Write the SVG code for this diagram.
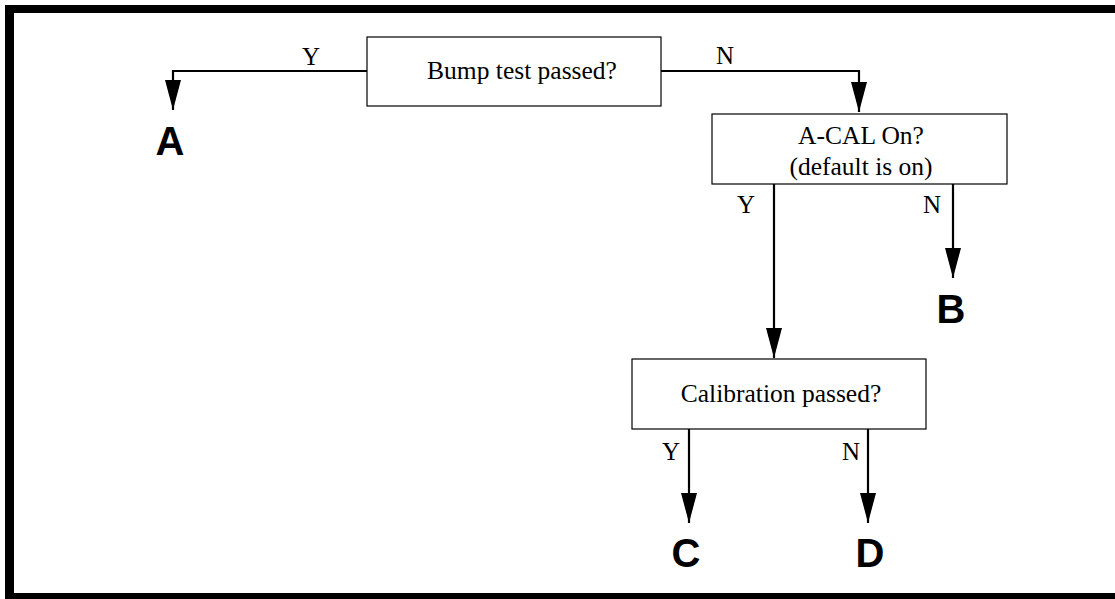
<svg xmlns="http://www.w3.org/2000/svg" width="1115" height="599" viewBox="0 0 1115 599">
<defs>
<style>
.box{fill:#fff;stroke:#000;stroke-width:1.2}
.t{font-family:"Liberation Serif",serif;font-size:25.5px;fill:#000;text-anchor:middle}
.lbl{font-family:"Liberation Serif",serif;font-size:25px;fill:#000;text-anchor:middle}
.end{font-family:"Liberation Sans",sans-serif;font-size:40px;font-weight:bold;fill:#000;text-anchor:middle}
.ln{fill:none;stroke:#000;stroke-width:2.2}
</style>
<marker id="ah" markerWidth="30" markerHeight="16" refX="30" refY="8" orient="auto" markerUnits="userSpaceOnUse" viewBox="0 0 30 16">
<path d="M0,0 L30,8 L0,16 Z" fill="#000"/>
</marker>
</defs>
<rect width="1115" height="599" fill="#fff"/>
<g id="frame" fill="#000">
<rect x="5" y="5" width="1110" height="8"/>
<rect x="5" y="5" width="9" height="594"/>
<rect x="5" y="593" width="1110" height="6"/>
</g>
<g id="connectors">
<path class="ln" d="M367,71 H173 V110" marker-end="url(#ah)"/>
<path class="ln" d="M661,71 H859 V112" marker-end="url(#ah)"/>
<path class="ln" d="M774,184 V358" marker-end="url(#ah)"/>
<path class="ln" d="M953,184 V278" marker-end="url(#ah)"/>
<path class="ln" d="M689,429 V523" marker-end="url(#ah)"/>
<path class="ln" d="M868,429 V523" marker-end="url(#ah)"/>
<text class="lbl" x="311" y="65">Y</text>
<text class="lbl" x="725" y="64">N</text>
<text class="lbl" x="746" y="213">Y</text>
<text class="lbl" x="932" y="213">N</text>
<text class="lbl" x="671" y="460">Y</text>
<text class="lbl" x="851" y="460">N</text>
</g>
<g id="bump">
<rect class="box" x="367" y="37" width="294" height="69"/>
<text class="t" x="522" y="79">Bump test passed?</text>
</g>
<g id="acal">
<rect class="box" x="712" y="114" width="295" height="70"/>
<text class="t" x="861" y="144">A-CAL On?</text>
<text class="t" x="861" y="175">(default is on)</text>
</g>
<g id="calib">
<rect class="box" x="632" y="359" width="294" height="70"/>
<text class="t" x="781" y="402">Calibration passed?</text>
</g>
<g id="A"><text class="end" x="170" y="155">A</text></g>
<g id="B"><text class="end" x="951" y="323">B</text></g>
<g id="C"><text class="end" x="686" y="567">C</text></g>
<g id="D"><text class="end" x="870" y="567">D</text></g>
</svg>
